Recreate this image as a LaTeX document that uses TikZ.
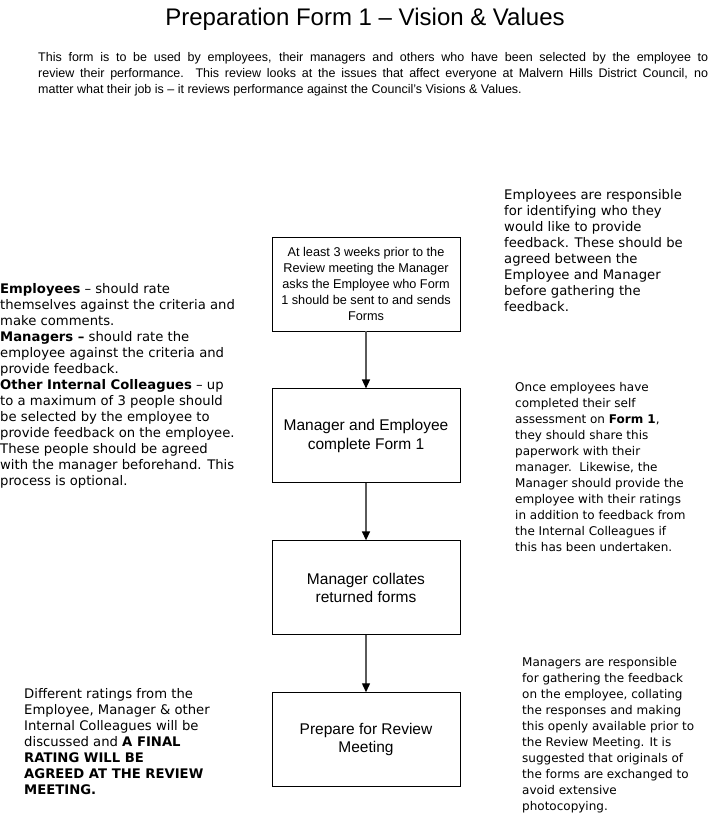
\documentclass[tikz,border=0pt]{standalone}
\usepackage{fontspec}
\setmainfont{Liberation Sans}
\newfontfamily\notefont[Ligatures=TeX]{DejaVu Sans}
\usetikzlibrary{arrows.meta, positioning}
\definecolor{linkgray}{RGB}{90,90,90}

\begin{document}
\begin{tikzpicture}[x=1pt, y=-1pt,
  flowbox/.style={draw, line width=0.9pt, minimum width=188pt, minimum height=94pt, align=center, inner sep=2pt, font=\fontsize{12.7}{16}\selectfont},
  bigbox/.style={flowbox, font=\fontsize{15.5}{18.5}\selectfont},
  note/.style={anchor=north west, inner sep=0pt, align=left, font=\notefont\fontsize{#1}{16}\selectfont},
  note/.default=13.2,
  link/.style={linkgray, line width=1.4pt, -{Triangle[length=9pt, width=8pt, black]}}]
  \useasboundingbox (0,0) rectangle (718,813);

  % heading and introduction
  \node[font=\fontsize{24}{28}\selectfont] (title) at (365,19) {Preparation Form 1 -- Vision \& Values};
  \node[anchor=north west, inner sep=0pt, text width=670pt, align=justify, font=\fontsize{12.5}{16}\selectfont] (intro) at (38,52)
    {This form is to be used by employees, their managers and others who have been selected by the employee to\linebreak
     review their performance.\ \ This review looks at the issues that affect everyone at Malvern Hills District Council, no\linebreak
     matter what their job is -- it reviews performance against the Council's Visions \& Values.};

  % the four steps
  \node[flowbox] (send) at (366,284) {At least 3 weeks prior to the\\Review meeting the Manager\\asks the Employee who Form\\1 should be sent to and sends\\Forms};
  \node[bigbox, below=57pt of send] (complete) {Manager and Employee\\complete Form 1};
  \node[bigbox, below=57pt of complete] (collate) {Manager collates\\returned forms};
  \node[bigbox, below=57pt of collate] (prepare) {Prepare for Review\\Meeting};

  \draw[link] (send) -- (complete);
  \draw[link] (complete) -- (collate);
  \draw[link] (collate) -- (prepare);

  % side notes
  \node[note] (notewho) at (504,189) {Employees are responsible\\for identifying who they\\would like to provide\\feedback. These should be\\agreed between the\\Employee and Manager\\before gathering the\\feedback.};
  \node[note] (noteroles) at (0,283) {\textbf{Employees} -- should rate\\themselves against the criteria and\\make comments.\\\textbf{Managers --} should rate the\\employee against the criteria and\\provide feedback.\\\textbf{Other Internal Colleagues} -- up\\to a maximum of 3 people should\\be selected by the employee to\\provide feedback on the employee.\\These people should be agreed\\with the manager beforehand. This\\process is optional.};
  \node[note=12] (noteshare) at (515,382) {Once employees have\\completed their self\\assessment on \textbf{Form 1},\\they should share this\\paperwork with their\\manager.\ \ Likewise, the\\Manager should provide the\\employee with their ratings\\in addition to feedback from\\the Internal Colleagues if\\this has been undertaken.};
  \node[note] (notefinal) at (24,688) {Different ratings from the\\Employee, Manager \& other\\Internal Colleagues will be\\discussed and \textbf{A FINAL}\\\textbf{RATING WILL BE}\\\textbf{AGREED AT THE REVIEW}\\\textbf{MEETING.}};
  \node[note=12] (notegather) at (522,657) {Managers are responsible\\for gathering the feedback\\on the employee, collating\\the responses and making\\this openly available prior to\\the Review Meeting. It is\\suggested that originals of\\the forms are exchanged to\\avoid extensive\\photocopying.};
\end{tikzpicture}
\end{document}
